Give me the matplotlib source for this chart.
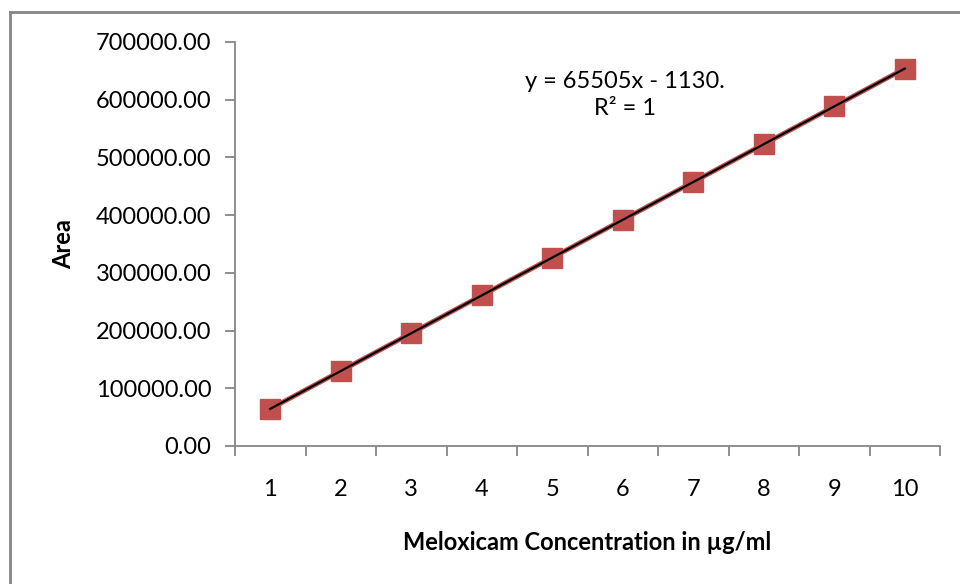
import numpy as np
import matplotlib
matplotlib.use("Agg")
import matplotlib.pyplot as plt
from matplotlib.lines import Line2D

# -----------------------------
# Data
# -----------------------------
concentration = [1, 2, 3, 4, 5, 6, 7, 8, 9, 10]
area = [64400, 129900, 195400, 260900, 326400, 391900, 457400, 522900, 588400, 653900]
y_ticks = [0, 100000, 200000, 300000, 400000, 500000, 600000, 700000]

equation_text = "y = 65505x - 1130.\nR\u00b2 = 1"

plt.rcParams["font.family"] = ["Lato", "DejaVu Sans"]

red = "#C0504D"
axis_grey = "#868686"
W, H = 960, 584

fig = plt.figure(figsize=(9.6, 5.84), dpi=100)
ax = fig.add_axes([235 / W, 1 - 446 / H, (940 - 235) / W, (446 - 42) / H])

pos = np.arange(1, len(concentration) + 1)

# series line + markers
ax.plot(pos, area, color=red, linewidth=3.5, marker="s", markersize=14.5,
        markerfacecolor=red, markeredgecolor=red, zorder=3)

# linear trendline
slope, intercept = np.polyfit(pos, area, 1)
ax.plot(pos, slope * pos + intercept, color="black", linewidth=1.6, zorder=4)

fig.text(625 / W, 1 - 95 / H, equation_text, ha="center", va="center",
         fontsize=17, linespacing=1.4)

# axes
ax.set_xlim(0.5, len(concentration) + 0.5)
ax.set_ylim(0, 700000)
ax.set_yticks(y_ticks)
ax.set_yticklabels([f"{v:.2f}" for v in y_ticks], fontsize=17)

ax.set_xticks(np.arange(0.5, len(concentration) + 1, 1))
ax.set_xticklabels([])
ax.set_xticks(pos, minor=True)
ax.set_xticklabels([str(c) for c in concentration], minor=True, fontsize=17)
ax.tick_params(axis="x", which="minor", length=0, pad=24)
ax.tick_params(axis="x", which="major", length=7, width=1.3, color=axis_grey, direction="out")
ax.tick_params(axis="y", length=7, width=1.3, color=axis_grey, direction="out", pad=10)

for side in ["top", "right"]:
    ax.spines[side].set_visible(False)
for side in ["left", "bottom"]:
    ax.spines[side].set_color(axis_grey)
    ax.spines[side].set_linewidth(1.3)

ax.set_xlabel("Meloxicam Concentration in \u00b5g/ml", fontsize=17, fontweight="bold", labelpad=22)
ax.set_ylabel("Area", fontsize=17, fontweight="bold", labelpad=15)

# chart frame (only top and left edges visible)
fig.add_artist(Line2D([9.5 / W, 9.5 / W], [0, 1 - 11.5 / H],
                      transform=fig.transFigure, color=axis_grey, linewidth=2))
fig.add_artist(Line2D([9.5 / W, 1], [1 - 11.5 / H, 1 - 11.5 / H],
                      transform=fig.transFigure, color=axis_grey, linewidth=2))

plt.savefig("out.png", dpi=100)
plt.close()
